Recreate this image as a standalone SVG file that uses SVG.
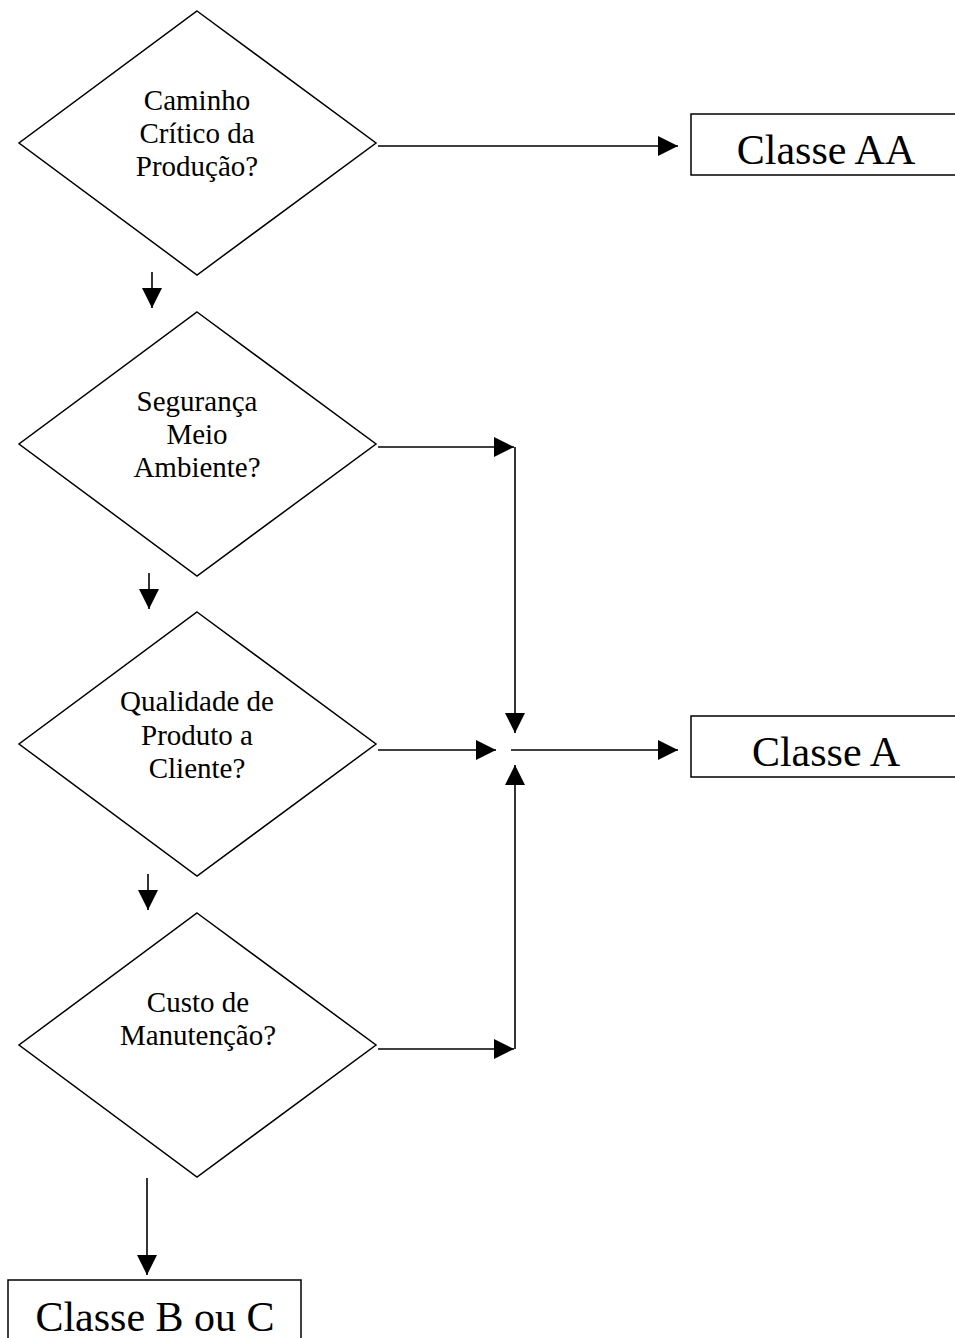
<svg xmlns="http://www.w3.org/2000/svg" width="955" height="1338" viewBox="0 0 955 1338">
<style>
.shape{fill:#fff;stroke:#000;stroke-width:1.5}
.edge{fill:none;stroke:#000;stroke-width:1.6}
.t{font-family:"Liberation Serif","Times New Roman",serif;font-size:29px;fill:#000;text-anchor:middle}
.tb{font-family:"Liberation Serif","Times New Roman",serif;font-size:42px;fill:#000;text-anchor:middle}
</style>
<defs>
<marker id="arr" viewBox="0 0 20 20" refX="20" refY="10" markerWidth="20" markerHeight="20" markerUnits="userSpaceOnUse" orient="auto">
<path d="M0,0 L20,10 L0,20 Z" fill="#000"/>
</marker>
</defs>
<rect width="955" height="1338" fill="#fff"/>
<g id="d1">
<polygon class="shape" points="197,11 376,143 197,275 19,143"/>
<text class="t" x="197" y="110">Caminho</text>
<text class="t" x="197" y="143">Crítico da</text>
<text class="t" x="197" y="176">Produção?</text>
</g>
<g id="d2">
<polygon class="shape" points="197,312 376,444 197,576 19,444"/>
<text class="t" x="197" y="411">Segurança</text>
<text class="t" x="197" y="444">Meio</text>
<text class="t" x="197" y="477">Ambiente?</text>
</g>
<g id="d3">
<polygon class="shape" points="197,612 376,744 197,876 19,744"/>
<text class="t" x="197" y="711">Qualidade de</text>
<text class="t" x="197" y="745">Produto a</text>
<text class="t" x="197" y="778">Cliente?</text>
</g>
<g id="d4">
<polygon class="shape" points="197,913 376,1045 197,1177 19,1045"/>
<text class="t" x="198" y="1012">Custo de</text>
<text class="t" x="198" y="1045">Manutenção?</text>
</g>
<g id="classeAA">
<rect class="shape" x="691" y="114" width="300" height="61"/>
<text class="tb" x="826" y="164">Classe AA</text>
</g>
<g id="classeA">
<rect class="shape" x="691" y="716" width="300" height="61"/>
<text class="tb" x="826" y="766">Classe A</text>
</g>
<g id="classeBC">
<rect class="shape" x="8" y="1280" width="293" height="80"/>
<text class="tb" x="155" y="1331">Classe B ou C</text>
</g>
<g id="connectors">
<line class="edge" x1="378" y1="146" x2="678" y2="146" marker-end="url(#arr)"/>
<line class="edge" x1="152" y1="272" x2="152" y2="308" marker-end="url(#arr)"/>
<line class="edge" x1="149" y1="573" x2="149" y2="609" marker-end="url(#arr)"/>
<line class="edge" x1="148" y1="874" x2="148" y2="910" marker-end="url(#arr)"/>
<line class="edge" x1="147" y1="1178" x2="147" y2="1275" marker-end="url(#arr)"/>
<line class="edge" x1="378" y1="447" x2="514" y2="447" marker-end="url(#arr)"/>
<line class="edge" x1="515" y1="447" x2="515" y2="733" marker-end="url(#arr)"/>
<line class="edge" x1="378" y1="750" x2="496" y2="750" marker-end="url(#arr)"/>
<line class="edge" x1="378" y1="1049" x2="514" y2="1049" marker-end="url(#arr)"/>
<line class="edge" x1="515" y1="1049" x2="515" y2="765" marker-end="url(#arr)"/>
<line class="edge" x1="511" y1="750" x2="678" y2="750" marker-end="url(#arr)"/>
</g>
</svg>
